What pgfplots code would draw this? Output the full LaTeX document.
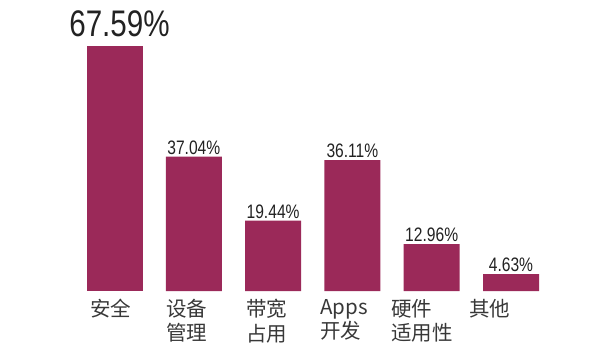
\documentclass[border=0pt]{standalone}
\usepackage{pgfplots}
\pgfplotsset{compat=1.18}
\usepackage{fontspec}
\setmainfont{Liberation Sans}
\newfontfamily\cjk{Noto Sans CJK SC}
\newfontfamily\numfont[FakeStretch=0.8]{Liberation Sans}
\definecolor{barc}{RGB}{155,41,89}
\definecolor{txt}{RGB}{34,34,34}
\begin{document}
\begin{tikzpicture}[x=1pt,y=1pt]
\useasboundingbox (0,0) rectangle (600,360);
\begin{axis}[
  at={(74.85pt,69pt)}, anchor=south west,
  scale only axis, width=475.8pt, height=290pt,
  xmin=-0.5, xmax=5.5, ymin=0, ymax=80,
  hide y axis,
  axis x line=bottom,
  x axis line style={draw=none,-},
  major tick length=0pt,
  xtick={-0.309,0.649,1.658,2.591,3.487,4.47},
  xticklabels={安全,{设备\\管理},{带宽\\占用},{Apps\\开发},{硬件\\适用性},其他},
  xticklabel style={anchor=north west, inner sep=0pt, align=left,
    font=\cjk\fontsize{20.5}{24.5}\selectfont, text=txt!90, yshift=-8pt},
  clip=false,
]
\addplot[ybar, fill=barc, draw=none, bar width=56pt, bar shift=0pt,
  nodes near coords, point meta=explicit symbolic,
  every node near coord/.append style={font=\numfont\fontsize{37}{37}\selectfont, text=txt, inner sep=0pt, anchor=south, yshift=9pt, xshift=5pt}]
  coordinates {(0,67.59) [67.59\%]};
\addplot[ybar, fill=barc, draw=none, bar width=56pt, bar shift=0pt,
  nodes near coords, point meta=explicit symbolic,
  every node near coord/.append style={font=\numfont\fontsize{19.5}{19.5}\selectfont, text=txt, inner sep=0pt, anchor=south, yshift=2pt}]
  coordinates {(1,37.04) [37.04\%] (2,19.44) [19.44\%] (3,36.11) [36.11\%] (4,12.96) [12.96\%] (5,4.63) [4.63\%]};
\end{axis}
\end{tikzpicture}
\end{document}
